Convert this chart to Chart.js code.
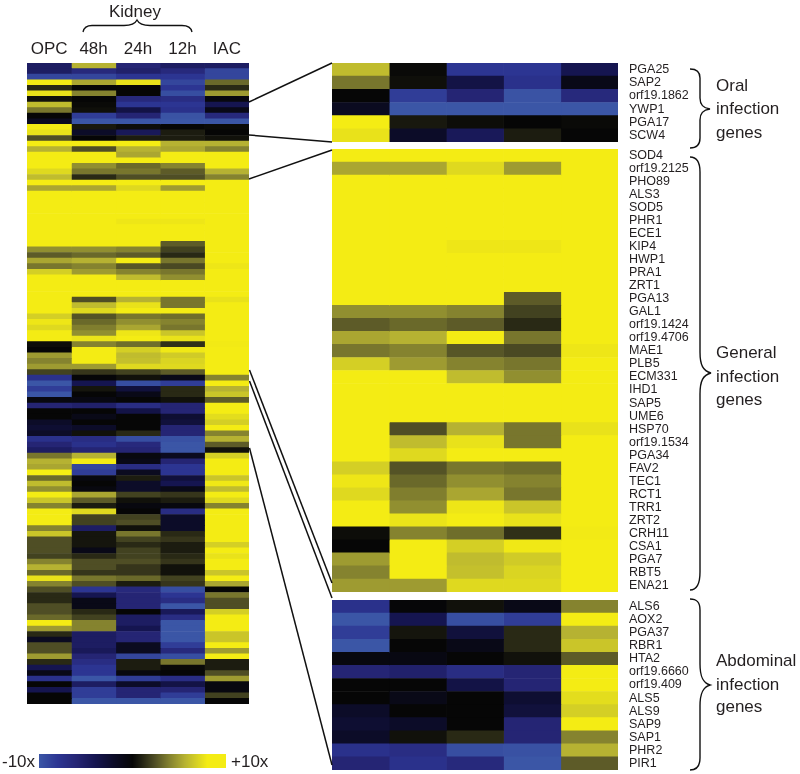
<!DOCTYPE html>
<html>
<head>
<meta charset="utf-8">
<script src="https://cdn.jsdelivr.net/npm/chart.js@4"></script>
<style>
html,body{margin:0;padding:0;background:#fff;width:800px;height:774px;overflow:hidden}
canvas{position:absolute;display:block}
svg{position:absolute;left:0;top:0}
.t{position:absolute;font-family:"Liberation Sans",Arial,sans-serif;font-size:17px;color:#231f20;line-height:20px;white-space:nowrap}
</style>
</head>
<body>
<script>
const columnsLeft = ['OPC','48h','24h','12h','IAC'];

const oralGenes = ['PGA25','SAP2','orf19.1862','YWP1','PGA17','SCW4'];
const oralValues = [
 [7.5,0.2,-8,-8,-4],[4.5,0.4,-3.5,-7.5,-1],[0,-8.5,-6,-9.8,-6.5],
 [-1.5,-10,-10,-10,-10],[10,0.8,0.3,0,0.2],[9.5,-2,-4.5,1,0]];

const generalGenes = ['SOD4','orf19.2125','PHO89','ALS3','SOD5','PHR1','ECE1','KIP4','HWP1','PRA1','ZRT1','PGA13','GAL1','orf19.1424','orf19.4706','MAE1','PLB5','ECM331','IHD1','SAP5','UME6','HSP70','orf19.1534','PGA34','FAV2','TEC1','RCT1','TRR1','ZRT2','CRH11','CSA1','PGA7','RBT5','ENA21'];
const generalValues = [
 [10,10,10,10,10],[6.5,6.5,9,6,10],[10,10,10,10,10],[10,10,10,10,10],[10,10,10,10,10],
 [10,10,10,10,10],[10,10,10,10,10],[10,10,9.7,9.7,10],[10,10,10,10,10],[10,10,10,10,10],
 [10,10,10,10,10],[10,10,10,3.5,10],[5.5,5.5,5,2.5,10],[3.5,4,3.5,1.5,10],[6.5,7,10,4.5,10],
 [4.5,5,3.3,2.8,9.7],[8.5,6,5,4.5,10],[10,10,7.5,5.5,10],[10,10,10,10,10],[10,10,10,10,10],
 [10,10,10,10,10],[10,3,7,4.5,9.5],[10,7.5,9.5,4.5,10],[10,9,10,10,10],[8.5,3.2,4.5,4.2,10],
 [9.7,4,5.5,5,10],[9,4.8,6.5,4.5,10],[10,5.5,9.7,8,10],[10,9.6,10,9.5,10],[0.3,5,4.2,1.8,9.9],
 [0,10,8.5,9.8,10],[6,10,7.5,8.3,10],[5,10,7.7,8.8,10],[6,6,9,9,10]];

const abdominalGenes = ['ALS6','AOX2','PGA37','RBR1','HTA2','orf19.6660','orf19.409','ALS5','ALS9','SAP9','SAP1','PHR2','PIR1'];
const abdominalValues = [
 [-7.5,-0.1,0.5,-1,5],[-10,-4,-9.5,-8.5,10],[-8.5,0.7,-3,1.5,7],[-10,0,-1,1.5,8],
 [-0.5,-0.7,0,0.5,3.5],[-6,-5.5,-7,-6,10],[0,0,-3.5,-6,10],[0,-1,0,-2.5,9.2],
 [-2,0,0,-3,8.5],[-2.5,-2,0,-6,10],[-2,0.5,1.5,-6,5],[-7.5,-7,-9.5,-9.7,7],[-6,-7.5,-6.5,-10,3.5]];

const topRows = [
 [-5,7,-6,-5,-5],[-5,-6.5,-5.5,-6.5,-9],[-9,-9,-8,-8,-9],[10,6.5,9.5,-9,4],
 [1.5,0,0,-8,1.5],[9.5,5,0,-9.5,6],[0.5,0,-6.5,-7,-0.5]];
const middleRows = [
 [3,0,1,1,0.5],[10,10,10,7,7],[7,3,7,6.5,5],[10,10,6.5,10,10],[10,10,10,10,10],
 [10,5.5,4,5,10],[9,4.5,4.5,3.5,7],[7.5,1.5,3,3,5]];
const gapRows = [[2.5,2,2.5,3.5,10]];
const bottomRows = [
 [-5,-6,-6,-10,0.5],[4.5,7,-0.5,-1.5,8.5],[7,10,-1,-6,10],[6.5,-9,-7,-8,10],[10,-8.5,-1.5,-8,10],
 [4,-0.5,1,-3,8],[7.5,0,-2,-4,9.8],[5.5,-0.5,-2,-1,7.5],[10,6.5,2.5,2,10],[8,3.5,0.5,1,9],
 [5,1,-0.5,-0.5,5],[10,9,0,-7,10],[10,2.5,2.5,-2,10],[10,2.5,3,-2,10],[5,-5,0.5,-2,10],
 [8,0.7,4.5,1.5,10],[3,0.7,2.5,2,10],[3,0.7,1.5,1,8.5],[3,-1,2.5,1,10],[2.5,1.5,2.5,1.5,9.5],
 [5,3,3,2,10],[7,3,2,0.5,10],[4,2,2,0.5,8],[9.5,4.5,4,2.5,10],[5,3,1,2,6.5],
 [3,-8,-6.5,-9.5,0],[1.5,-4,-6,-8,4.5],[1.5,-1,-6,-7,3],[3,-1,-6,-10,3],[3,1.5,0,-4.5,8.5],
 [4,2.5,-5,-7,10],[10,5,-5,-10,10],[6,5,-4,-10,10],[1.5,-5,-6,-10,8],[-1.5,-5,-6,-10,8],
 [3,-5,-1.5,-8.5,10],[3,-4.5,-1.5,-6.5,6],[6,-6,-9,-9.5,10],[1.5,-7,1,4.5,1],[-4,-8,1,0.2,1],
 [-1,-8,-0.5,0,3],[-7.5,-10,-8.5,-7,6],[0,-5,-2,-3.5,-0.5],[-4,-8.5,-6,-6,-0.5],[0,-8.5,-6,-8.5,2.5],
 [0,-10,-10,-10,0]];

const heatStops = [[-10,[59,86,166]],[-8,[44,53,146]],[-6,[37,37,116]],[-4,[21,21,80]],[-2,[12,12,40]],[0,[6,6,6]],
 [1,[28,28,16]],[3,[79,78,37]],[5,[133,131,47]],[7,[182,178,50]],[8.5,[212,207,37]],[10,[244,236,20]]];

function heat(v){
  for(let i=1;i<heatStops.length;i++){
    const [a,ca]=heatStops[i-1],[b,cb]=heatStops[i];
    if(v<=b){const t=(v-a)/(b-a);return 'rgb('+ca.map((c,k)=>Math.round(c+(cb[k]-c)*t)).join(',')+')';}
  }
  return 'rgb(244,236,20)';
}

function place(left,top,width,height){
  const c=document.createElement('canvas');
  c.width=width;c.height=height;
  c.style.left=left+'px';c.style.top=top+'px';c.style.width=width+'px';c.style.height=height+'px';
  document.body.appendChild(c);
  return c;
}

function noPad(s){s.paddingTop=0;s.paddingBottom=0;s.paddingLeft=0;s.paddingRight=0;}

function heatmap(left,top,width,height,rows,labels,opts){
  const axisW=opts.axisW||0, axisH=opts.axisH||0;
  const canvas=place(left,top-axisH,width+axisW,height+axisH);
  return new Chart(canvas,{
    type:'bar',
    data:{
      labels:labels,
      datasets:columnsLeft.map((name,c)=>({
        label:name,
        data:rows.map(()=>1),
        backgroundColor:rows.map(r=>heat(r[c])),
        borderWidth:0,barPercentage:1,categoryPercentage:1
      }))
    },
    options:{
      indexAxis:'y',responsive:false,animation:false,devicePixelRatio:1,
      layout:{padding:0,autoPadding:false},
      plugins:{legend:{display:false},tooltip:{enabled:false},title:{display:false}},
      scales:{
        x:{
          type:'linear',stacked:true,min:0,max:5,position:'top',
          display:axisH>0,
          grid:{display:false,drawTicks:false,tickLength:0},border:{display:false},
          afterFit:s=>{noPad(s);if(axisH)s.height=axisH;},
          afterBuildTicks:s=>{s.ticks=columnsLeft.map((n,i)=>({value:i+0.5}));},
          ticks:{padding:3,maxRotation:0,autoSkip:false,color:'#231f20',
            font:{family:'"Liberation Sans"',size:17},
            callback:v=>columnsLeft[Math.round(v-0.5)]}
        },
        y:{
          type:'category',stacked:true,position:'right',
          display:axisW>0,
          grid:{display:false,drawTicks:false,tickLength:0},border:{display:false},
          afterFit:s=>{noPad(s);if(axisW)s.width=axisW;},
          ticks:{padding:11,autoSkip:false,color:'#231f20',
            font:{family:'"Liberation Sans"',size:12.5}}
        }
      }
    }
  });
}

const allRows=[...topRows,...oralValues,...middleRows,...generalValues,...gapRows,...abdominalValues,...bottomRows];
heatmap(27,63,222,641,allRows,allRows.map((r,i)=>String(i+1)),{axisH:30});
heatmap(332,63,286,79,oralValues,oralGenes,{axisW:90});
heatmap(332,149,286,443,generalValues,generalGenes,{axisW:90});
heatmap(332,600,286,170,abdominalValues,abdominalGenes,{axisW:90});

// colour key
const keyValues=[[-10,10]];
const keyCanvas=place(39,754,187,14);
new Chart(keyCanvas,{
  type:'bar',
  data:{labels:['key'],datasets:[{data:keyValues,barPercentage:1,categoryPercentage:1,borderWidth:0,
    backgroundColor:ctx=>{
      const g=ctx.chart.ctx.createLinearGradient(0,0,187,0);
      heatStops.forEach(([v,c])=>g.addColorStop(v<=0?(v+10)/20:0.5+v/10*0.4,'rgb('+c.join(',')+')'));
      g.addColorStop(1,'rgb(244,236,20)');
      return g;
    }}]},
  options:{indexAxis:'y',responsive:false,animation:false,devicePixelRatio:1,layout:{padding:0,autoPadding:false},
    plugins:{legend:{display:false},tooltip:{enabled:false}},
    scales:{x:{type:'linear',min:-10,max:10,display:false},y:{display:false}}}
});

// annotations
const ns='http://www.w3.org/2000/svg';
const svg=document.createElementNS(ns,'svg');
svg.setAttribute('width','800');svg.setAttribute('height','774');
const paths=[
 ['M249 102L332 63',1.5],['M249 135L332 142',1.5],['M249 179L332 150',1.5],
 ['M249.5 370L332 583',1.5],['M249.5 381L332 598',1.5],['M249.5 448L332 765',1.5],
 ['M83 32C84 27 87 25.5 92 25.5L124 25.5C131 25.5 135 24 137 20C139 24 143 25.5 150 25.5L182 25.5C188 25.5 191 27 192 32',1.3],
 ['M690 69C697 69 700 72 700 78L700 98C700 105 703 108 710 109C703 110 700 113 700 120L700 138C700 145 697 148 690 148',1.4],
 ['M690 157C697 157 700 162 700 172L700 352C700 365 703 371 711 373C703 375 700 381 700 394L700 572C700 584 697 590 690 590',1.4],
 ['M690 599C697 599 700 602 700 610L700 664C700 677 703 683 710 685C703 687 700 693 700 706L700 758C700 766 697 770 690 770',1.4]
];
paths.forEach(([d,w])=>{
  const p=document.createElementNS(ns,'path');
  p.setAttribute('d',d);p.setAttribute('fill','none');p.setAttribute('stroke','#111');p.setAttribute('stroke-width',w);
  svg.appendChild(p);
});
document.body.appendChild(svg);

const notes=[['Kidney',109,2],['Oral',716,76],['infection',716,99],['genes',716,123],
 ['General',716,343],['infection',716,367],['genes',716,390],
 ['Abdominal',716,651],['infection',716,675],['genes',716,697],
 ['-10x',2,752],['+10x',231,752]];
notes.forEach(([s,x,y])=>{
  const d=document.createElement('div');d.className='t';d.textContent=s;
  d.style.left=x+'px';d.style.top=y+'px';document.body.appendChild(d);
});
</script>
</body>
</html>
